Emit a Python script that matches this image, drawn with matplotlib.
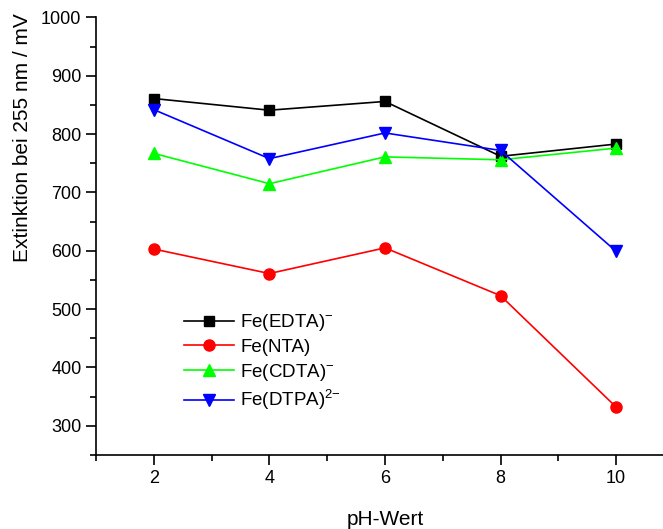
import matplotlib.pyplot as plt
from matplotlib.ticker import MultipleLocator

plt.rcParams['font.family'] = ['Liberation Sans', 'DejaVu Sans']
plt.rcParams['mathtext.default'] = 'regular'

ph = [2, 4, 6, 8, 10]
edta = [861, 841, 856, 762, 783]
nta = [603, 561, 605, 523, 332]
cdta = [767, 715, 761, 756, 776]
dtpa = [842, 758, 802, 772, 599]

series = [
    (edta, 'black', 's', 7.5, r'Fe(EDTA)$^{{-}}$'),
    (nta, 'red', 'o', 8, 'Fe(NTA)'),
    (cdta, '#00ff00', '^', 9, r'Fe(CDTA)$^{{-}}$'),
    (dtpa, 'blue', 'v', 9, r'Fe(DTPA)$^{2{-}}$'),
]

fig = plt.figure(figsize=(6.63, 5.29), dpi=100)
ax = fig.add_axes([0.1448, 0.140, 0.8552, 0.827])

for vals, col, mk, ms, lab in series:
    ax.plot(ph, vals, color=col, marker=mk, markersize=ms, linewidth=1.2, label=lab)

ax.set_xlim(1, 10.81)
ax.set_ylim(250, 1000)
ax.xaxis.set_major_locator(MultipleLocator(2))
ax.xaxis.set_minor_locator(MultipleLocator(1))
ax.yaxis.set_minor_locator(MultipleLocator(50))
ax.set_yticks(range(300, 1001, 100))

for s in ['top', 'right']:
    ax.spines[s].set_visible(False)
for s in ['left', 'bottom']:
    ax.spines[s].set_linewidth(1.2)

ax.tick_params(which='major', direction='out', length=7, width=1.2, labelsize=13)
ax.tick_params(which='minor', direction='out', length=4, width=1.2)

ax.set_xlabel('pH-Wert', fontsize=15)
ax.set_ylabel('Extinktion bei 255 nm / mV', fontsize=15)
ax.xaxis.set_label_coords(0.51, -0.125)
ax.yaxis.set_label_coords(-0.113, 0.725)

ax.legend(loc='upper left', bbox_to_anchor=(0.125, 0.365), frameon=False,
          fontsize=13.5, handlelength=2.7, handletextpad=0.3, labelspacing=0.3)

fig.savefig('out.png', dpi=100)
